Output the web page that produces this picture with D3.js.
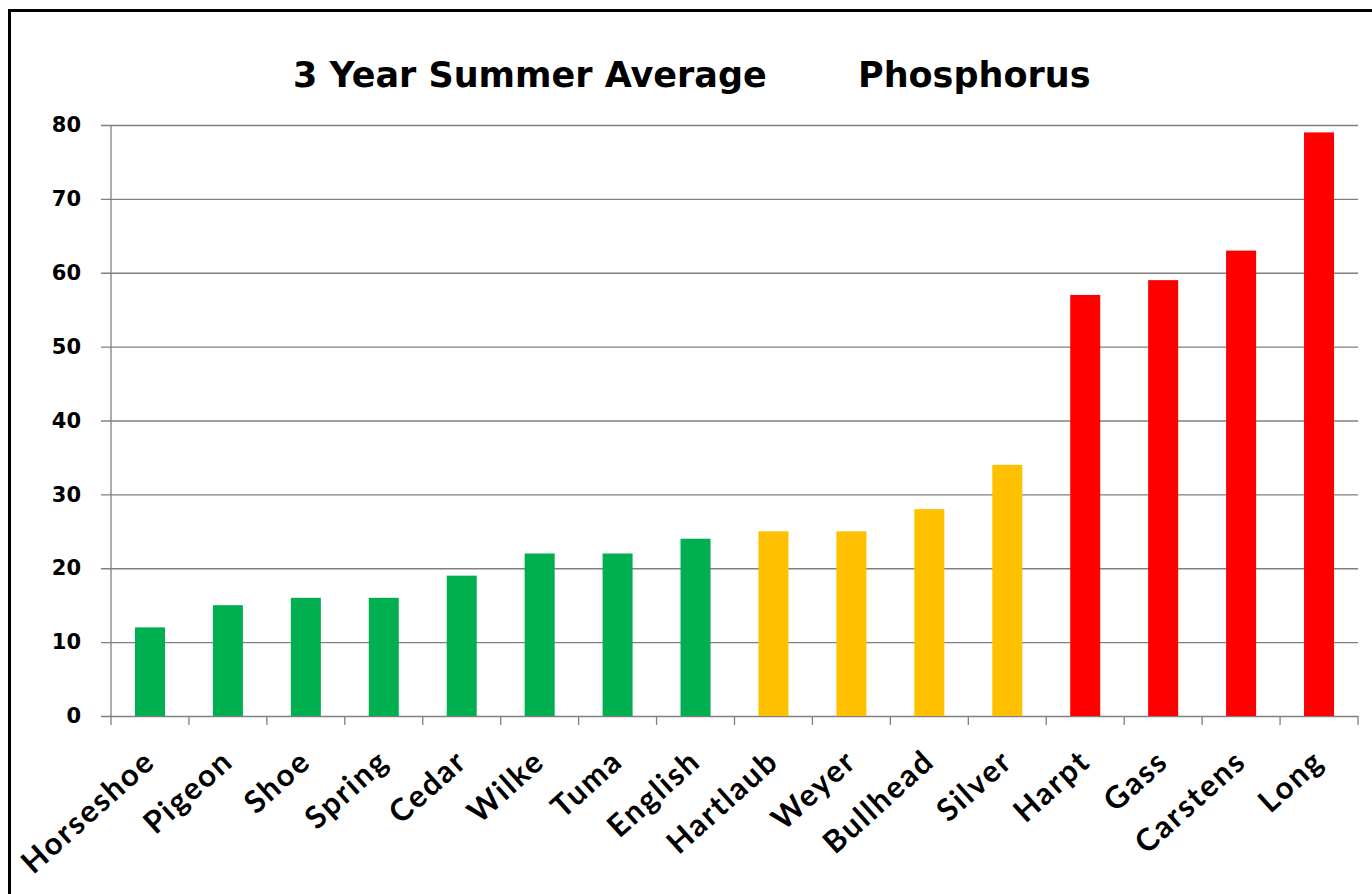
<!DOCTYPE html>
<html>
<head>
<meta charset="utf-8">
<script src="https://cdn.jsdelivr.net/npm/d3@7"></script>
<style>
  html, body { margin: 0; padding: 0; background: #fff; }
  svg { display: block; }
</style>
</head>
<body>
<svg id="chart" width="1372" height="894"></svg>
<script>
// ---- data ----
const categories = ["Horseshoe","Pigeon","Shoe","Spring","Cedar","Wilke","Tuma","English",
                    "Hartlaub","Weyer","Bullhead","Silver","Harpt","Gass","Carstens","Long"];
const values = [12,15,16,16,19,22,22,24,25,25,28,34,57,59,63,79];
const levels = ["low","low","low","low","low","low","low","low",
                "mid","mid","mid","mid","high","high","high","high"];
const yTicks = [0,10,20,30,40,50,60,70,80];
const titleLeft = "3 Year Summer Average";
const titleRight = "Phosphorus";

// ---- layout ----
const W = 1372, H = 894;
const plot = { left: 111, right: 1358, top: 125, bottom: 716 };
const svg = d3.select("#chart");

// frame
svg.append("rect")
  .attr("x", 9.5).attr("y", 10.5)
  .attr("width", W + 20).attr("height", H + 20)
  .attr("fill", "#fff").attr("stroke", "#000").attr("stroke-width", 3);

const x = d3.scaleBand().domain(categories)
  .range([plot.left, plot.right])
  .paddingInner(0.615).paddingOuter(0.3075);
const y = d3.scaleLinear().domain([0, 80]).range([plot.bottom, plot.top]);
const color = d3.scaleOrdinal().domain(["low","mid","high"]).range(["#00B050","#FFC000","#FF0000"]);

const gridColor = "#808080";

// y axis + gridlines
const gy = svg.append("g").attr("transform", `translate(${plot.left},0)`)
  .call(d3.axisLeft(y).tickValues(yTicks).tickSizeOuter(0).tickSizeInner(10).tickPadding(20));
gy.select(".domain").remove();
gy.selectAll(".tick line")
  .attr("x1", -10).attr("x2", plot.right - plot.left)
  .attr("stroke", gridColor).attr("stroke-width", 1.3);
gy.selectAll(".tick text")
  .attr("font-family", "'DejaVu Sans', Verdana, sans-serif")
  .attr("font-weight", "bold").attr("font-size", 21).attr("fill", "#000");
// y axis line
svg.append("line")
  .attr("x1", plot.left).attr("x2", plot.left)
  .attr("y1", plot.top).attr("y2", plot.bottom + 9)
  .attr("stroke", gridColor).attr("stroke-width", 1.3);

// bars
svg.append("g").selectAll("rect").data(categories).join("rect")
  .attr("x", d => x(d))
  .attr("width", x.bandwidth())
  .attr("y", (d, i) => y(values[i]))
  .attr("height", (d, i) => y(0) - y(values[i]))
  .attr("fill", (d, i) => color(levels[i]));

// x axis category ticks at band boundaries
const step = x.step();
const boundaries = categories.map(d => x(d) + x.bandwidth() / 2 + step / 2);
svg.append("g").selectAll("line").data(boundaries).join("line")
  .attr("x1", d => d).attr("x2", d => d)
  .attr("y1", plot.bottom).attr("y2", plot.bottom + 9)
  .attr("stroke", gridColor).attr("stroke-width", 1.3);

// x labels
const gx = svg.append("g").attr("transform", `translate(0,${plot.bottom})`)
  .call(d3.axisBottom(x).tickSize(0).tickPadding(0));
gx.select(".domain").remove();
gx.selectAll(".tick text")
  .attr("font-family", "Lato, 'Open Sans', sans-serif")
  .attr("font-weight", "bold").attr("font-size", 31).attr("fill", "#000")
  .attr("letter-spacing", 2)
  .attr("text-anchor", "end")
  .attr("dy", 0).attr("y", 0)
  .attr("transform", "translate(7,48) rotate(-42)");

// title
const tf = { "font-family": "'DejaVu Sans', Verdana, sans-serif", "font-weight": "bold", "font-size": 35 };
const t1 = svg.append("text").attr("x", 293).attr("y", 87).text(titleLeft);
const t2 = svg.append("text").attr("x", 858).attr("y", 87).text(titleRight);
[t1, t2].forEach(t => Object.entries(tf).forEach(([k, v]) => t.attr(k, v)));
</script>
</body>
</html>
